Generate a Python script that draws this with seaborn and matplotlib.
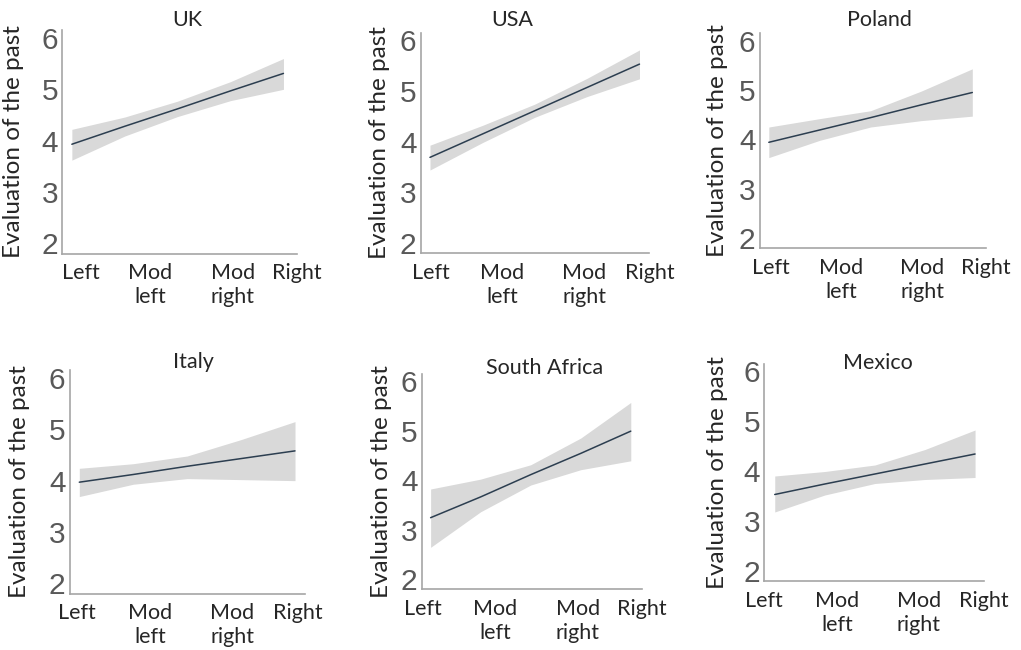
import pandas as pd
import seaborn as sns
import matplotlib.pyplot as plt

countries = ["UK", "USA", "Poland", "Italy", "South Africa", "Mexico"]
positions = [1, 2, 3, 4, 5]
categories = ["Left", "Mod\nleft", "Mod\nright", "Right"]

# fitted line and confidence band, read at the five tick positions
uk_fit = [3.93, 4.28, 4.62, 4.97, 5.31]
uk_upper = [4.22, 4.46, 4.77, 5.15, 5.60]
uk_lower = [3.62, 4.09, 4.47, 4.78, 5.00]

usa_fit = [3.69, 4.15, 4.61, 5.07, 5.53]
usa_upper = [3.93, 4.32, 4.74, 5.25, 5.81]
usa_lower = [3.44, 3.98, 4.48, 4.89, 5.24]

poland_fit = [3.94, 4.19, 4.44, 4.70, 4.95]
poland_upper = [4.25, 4.42, 4.58, 4.98, 5.43]
poland_lower = [3.63, 3.98, 4.25, 4.38, 4.47]

italy_fit = [3.97, 4.12, 4.28, 4.43, 4.58]
italy_upper = [4.24, 4.33, 4.48, 4.80, 5.15]
italy_lower = [3.69, 3.93, 4.04, 4.02, 4.00]

sa_fit = [3.24, 3.66, 4.11, 4.54, 4.99]
sa_upper = [3.82, 4.02, 4.31, 4.85, 5.57]
sa_lower = [2.64, 3.36, 3.90, 4.21, 4.39]

mexico_fit = [3.53, 3.74, 3.94, 4.14, 4.34]
mexico_upper = [3.90, 3.99, 4.12, 4.43, 4.82]
mexico_lower = [3.18, 3.52, 3.75, 3.83, 3.87]

fits = [uk_fit, usa_fit, poland_fit, italy_fit, sa_fit, mexico_fit]
uppers = [uk_upper, usa_upper, poland_upper, italy_upper, sa_upper, mexico_upper]
lowers = [uk_lower, usa_lower, poland_lower, italy_lower, sa_lower, mexico_lower]

# layout (pixels): first tick x, last tick x, y of "6", y of "2"
frames = [(72, 287, 38, 243.3), (430, 640, 40.3, 243), (769, 976.7, 40.7, 238),
          (79.3, 295, 378, 583.3), (430.7, 632.7, 381.2, 579), (773.3, 975, 371, 571)]
label_x = [[1.18, 2.48, 4.04, 5.25], [1.01, 2.38, 3.95, 5.19], [1.05, 2.43, 4.02, 5.27],
           [0.96, 2.31, 3.84, 5.05], [0.85, 2.29, 3.94, 5.22], [0.79, 2.24, 3.88, 5.17]]
title_xy = [(187, 20), (512, 20), (879, 20), (193, 362), (545, 368), (878, 363)]
ylab_off = [38, 31, 32, 40, 30, 36]

sns.set_style("white")
plt.rcParams["font.family"] = ["Lato", "DejaVu Sans"]

W, H = 1021, 650
XL = (0.82, 5.18)
YL = (1.8, 6.15)
fig = plt.figure(figsize=(W / 100, H / 100), dpi=100)

for i, country in enumerate(countries):
    x1, x5, y6, y2 = frames[i]
    ux = (x5 - x1) / 4
    uy = (y2 - y6) / 4
    left = x1 - (1 - XL[0]) * ux
    right = x5 + (XL[1] - 5) * ux
    top = y6 - (YL[1] - 6) * uy
    bottom = y2 + (2 - YL[0]) * uy
    ax = fig.add_axes([left / W, 1 - bottom / H, (right - left) / W, (bottom - top) / H])

    df = pd.DataFrame({"pos": positions, "fit": fits[i],
                       "lo": lowers[i], "hi": uppers[i]})
    ax.fill_between(df["pos"], df["lo"], df["hi"], color="#d9d9d9", lw=0)
    sns.lineplot(data=df, x="pos", y="fit", color="#2c3e50", lw=1.1, ax=ax)

    ax.set_xlim(*XL)
    ax.set_ylim(*YL)

    ax.set_xticks(label_x[i])
    ax.set_xticklabels(categories, fontsize=15.5, linespacing=1.25)
    ax.set_xticks(positions, minor=True)
    ax.tick_params(axis="x", which="major", length=0, pad=7)
    ax.tick_params(axis="x", which="minor", length=3, width=0.8, color="#c8c8c8")

    ax.set_yticks([2, 3, 4, 5, 6])
    ax.set_yticklabels(["2", "3", "4", "5", "6"], fontsize=21.5,
                       family="Liberation Sans", color="#595959")
    ax.tick_params(axis="y", length=0, pad=3)

    ax.set_xlabel("")
    ax.set_ylabel("Evaluation of the past", fontsize=17.5)
    ax.yaxis.set_label_coords(-ylab_off[i] / (right - left), 0.5)

    sns.despine(ax=ax)
    for s in ["left", "bottom"]:
        ax.spines[s].set_color("#a6a6a6")
        ax.spines[s].set_linewidth(1.2)

    tx, ty = title_xy[i]
    fig.text(tx / W, 1 - ty / H, country, fontsize=15.5, ha="center", va="center")

fig.savefig("out.png", dpi=100)
